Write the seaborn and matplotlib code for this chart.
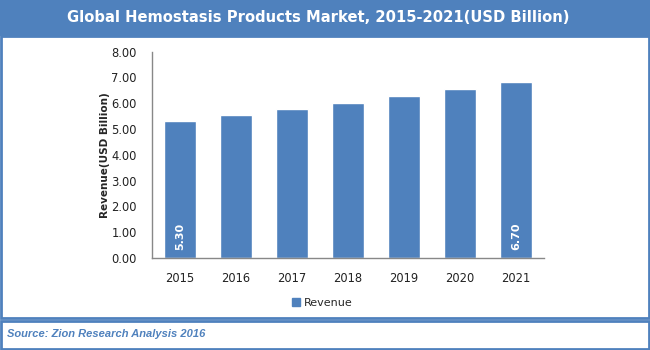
import matplotlib
matplotlib.use("Agg")
import matplotlib.pyplot as plt
import matplotlib.patches as mpatches
import seaborn as sns
import pandas as pd

years = ["2015", "2016", "2017", "2018", "2019", "2020", "2021"]
revenue = [5.30, 5.54, 5.78, 6.01, 6.28, 6.55, 6.82]
bar_labels = ["5.30", "", "", "", "", "", "6.70"]
series_name = "Revenue"
yticks = [0, 1, 2, 3, 4, 5, 6, 7, 8]
title = "Global Hemostasis Products Market, 2015-2021(USD Billion)"
ylabel = "Revenue(USD Billion)"
source = "Source: Zion Research Analysis 2016"

BLUE = "#4F81BD"

sns.set_theme(style="white")
plt.rcParams["font.family"] = ["DejaVu Sans"]

fig = plt.figure(figsize=(6.5, 3.5), dpi=100)
W, H = 650, 350

def fx(x):
    return x / W

def fy(y):
    return 1 - y / H

# banner
fig.patches.append(mpatches.Rectangle((0, fy(36)), 1, 36 / H, transform=fig.transFigure,
                                      facecolor=BLUE, edgecolor="none", zorder=0))
fig.text(fx(318), fy(18), title, color="white", fontsize=10.6, fontweight="bold",
         ha="center", va="center")
# chart box
fig.patches.append(mpatches.Rectangle((fx(1), fy(318)), fx(648), (318 - 36) / H,
                                      transform=fig.transFigure, facecolor="none",
                                      edgecolor=BLUE, linewidth=2, zorder=0))
# footer box
fig.patches.append(mpatches.Rectangle((fx(1), fy(349)), fx(648), (349 - 321) / H,
                                      transform=fig.transFigure, facecolor="none",
                                      edgecolor=BLUE, linewidth=2, zorder=0))
fig.text(fx(7), fy(334), source, color=BLUE, fontsize=8, fontstyle="italic",
         fontweight="bold", ha="left", va="center", family=["Liberation Sans Narrow", "Liberation Sans"])

ax = fig.add_axes([fx(152), fy(258), fx(544 - 152), (258 - 51.7) / H])
df = pd.DataFrame({"Year": years, "Revenue": revenue, "Series": series_name})
sns.barplot(data=df, x="Year", y="Revenue", hue="Series", palette=[BLUE],
            width=0.57, ax=ax, legend=False, saturation=1)

ax.set_ylim(0, 8)
ax.set_xlim(-0.5, len(years) - 0.5)
ax.set_yticks(yticks)
ax.set_yticklabels([f"{v:.2f}" for v in yticks])
ax.tick_params(axis="y", labelsize=8.3, pad=11, length=0, colors="#222222")
ax.tick_params(axis="x", labelsize=8.3, pad=10, length=0, colors="#222222")
ax.set_xlabel("")
ax.set_ylabel(ylabel, fontsize=7.5, fontweight="bold", labelpad=1)
for s in ["top", "right"]:
    ax.spines[s].set_visible(False)
for s in ["left", "bottom"]:
    ax.spines[s].set_color("#888888")
    ax.spines[s].set_linewidth(1)
ax.grid(False)

for i, lab in enumerate(bar_labels):
    if lab:
        ax.text(i, 0.3, lab, rotation=90, color="white", fontsize=8,
                fontweight="bold", ha="center", va="bottom")

handle = mpatches.Patch(color=BLUE, label=series_name)
fig.legend(handles=[handle], loc="center", bbox_to_anchor=(fx(322), fy(303)),
           frameon=False, fontsize=8, handlelength=0.8, handleheight=0.8,
           handletextpad=0.3)

fig.savefig("out.png", dpi=100)
